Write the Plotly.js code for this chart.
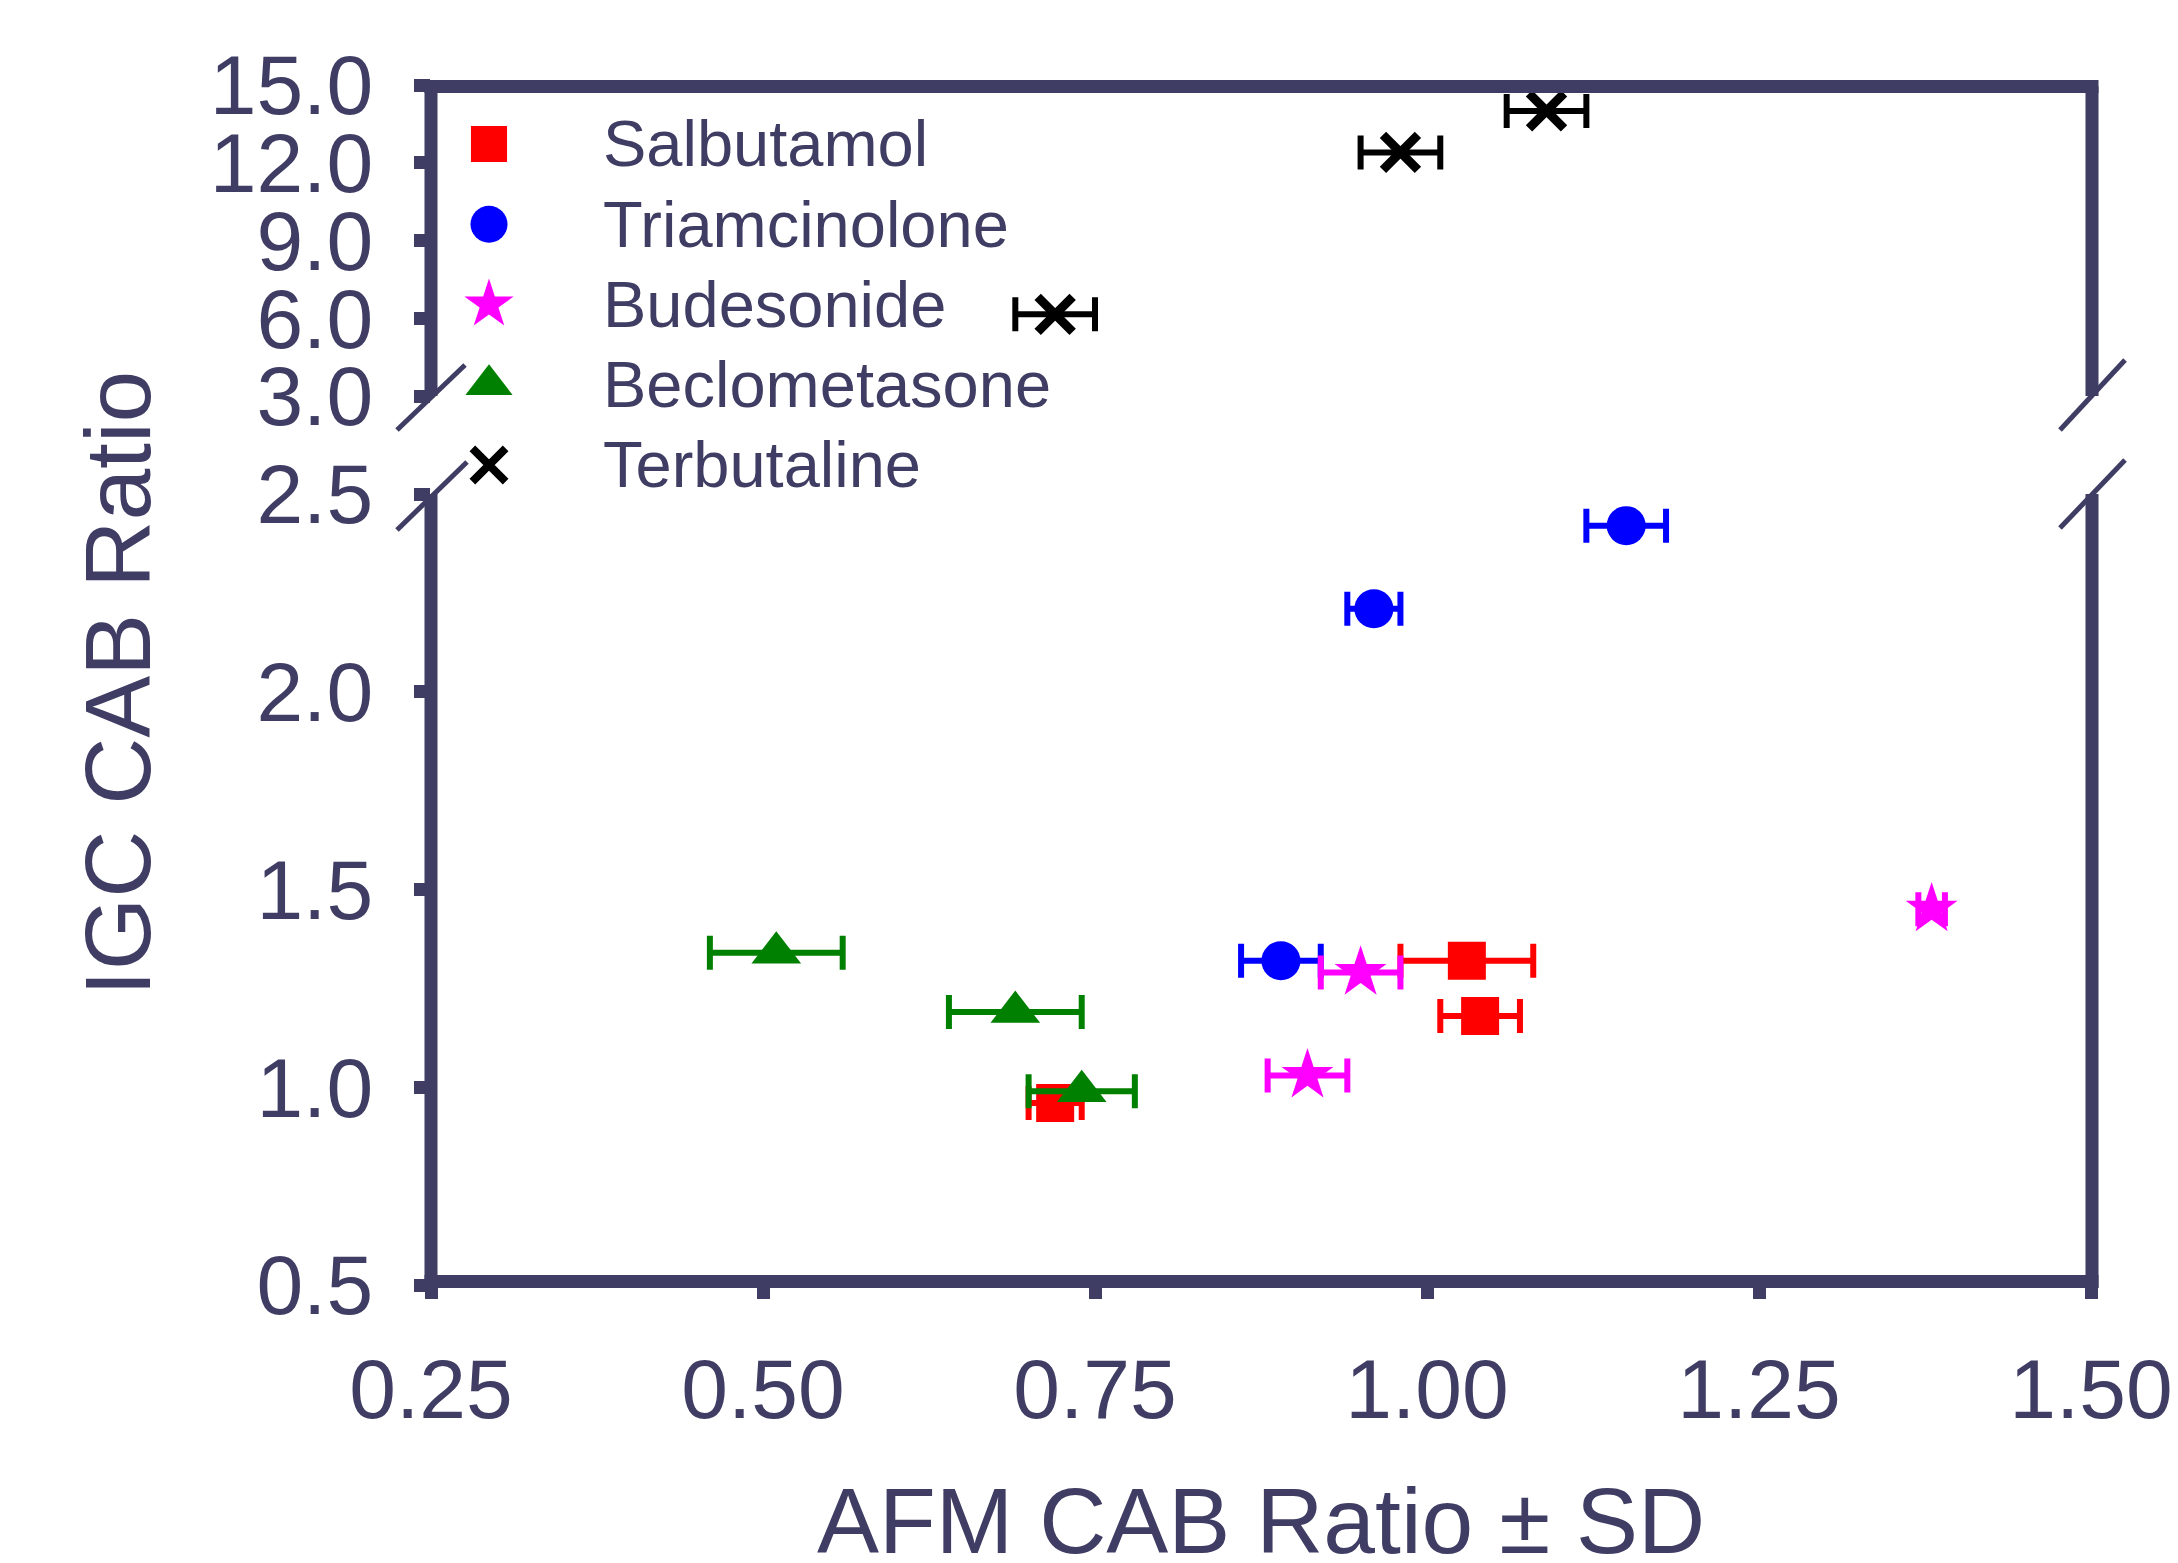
<!DOCTYPE html>
<html><head><meta charset="utf-8">
<script src="https://cdn.plot.ly/plotly-3.0.1.min.js"></script>
<style>html,body{margin:0;padding:0;background:#fff}</style>
</head><body><div id="chart" style="width:2178px;height:1563px"></div>
<script>
// ---- data ----
const seriesNames = ['Salbutamol', 'Triamcinolone', 'Budesonide', 'Beclometasone', 'Terbutaline'];
const salbutamolX  = [1.03, 1.04, 0.72];
const salbutamolY  = [1.32, 1.18, 0.96];
const salbutamolSD = [0.05, 0.03, 0.02];
const triamX  = [1.15, 0.96, 0.89];
const triamY  = [2.42, 2.21, 1.32];
const triamSD = [0.03, 0.02, 0.03];
const budesX  = [0.95, 0.91, 1.38];
const budesY  = [1.29, 1.03, 1.45];
const budesSD = [0.03, 0.03, 0.01];
const beclX  = [0.51, 0.69, 0.74];
const beclY  = [1.34, 1.19, 0.99];
const beclSD = [0.05, 0.05, 0.04];
const terbX  = [1.09, 0.98, 0.72];
const terbY  = [14.0, 12.4, 6.15];
const terbSD = [0.03, 0.03, 0.03];
const xTickVals = [0.25, 0.50, 0.75, 1.00, 1.25, 1.50];
const yLowTickVals = [0.5, 1.0, 1.5, 2.0, 2.5];
const yHighTickVals = [3, 6, 9, 12, 15];

// ---- styling ----
const AX = '#3f3d63';
const FONT = 'Liberation Sans, Arial, Helvetica, sans-serif';
const W = 2178, H = 1563, ML = 431, MR = 87, MT = 85, MB = 278;
const PW = W - ML - MR, PH = H - MT - MB;
const fx = px => (px - ML) / PW;          // pixel -> paper (layout helper)
const fy = py => (H - MB - py) / PH;

const styles = [
  {color: '#ff0000', symbol: 'square', size: 38},
  {color: '#0000ff', symbol: 'circle', size: 39},
  {color: '#ff00ff', symbol: 'star', size: 39},
  {color: '#008000', symbol: 'triangle-up', size: 43},
  {color: '#000000', symbol: 'x-thin', size: 35}
];
const dataSets = [
  [salbutamolX, salbutamolY, salbutamolSD, 'y'],
  [triamX, triamY, triamSD, 'y'],
  [budesX, budesY, budesSD, 'y'],
  [beclX, beclY, beclSD, 'y'],
  [terbX, terbY, terbSD, 'y2']
];

const traces = dataSets.map((d, i) => {
  const s = styles[i];
  const marker = {color: s.color, symbol: s.symbol, size: s.size, opacity: 1};
  if (s.symbol === 'x-thin') marker.line = {color: s.color, width: 9};
  return {
    type: 'scatter', mode: 'markers', name: seriesNames[i],
    x: d[0], y: d[1], xaxis: 'x', yaxis: d[3],
    marker: marker,
    error_x: {type: 'data', array: d[2], visible: true, color: s.color, thickness: 6, width: 17},
    showlegend: false, cliponaxis: false
  };
});

// custom legend on a hidden axis pair
const legendIdx = seriesNames.map((_, i) => i);
traces.push({
  type: 'scatter', mode: 'markers', xaxis: 'x3', yaxis: 'y3',
  x: legendIdx.map(() => 0), y: legendIdx,
  marker: {
    color: styles.map(s => s.color),
    symbol: styles.map(s => s.symbol),
    size: styles.map(s => s.size * 0.95),
    opacity: 1,
    line: {color: styles.map(s => s.color), width: styles.map(s => s.symbol === 'x-thin' ? 8 : 0)}
  },
  showlegend: false, hoverinfo: 'skip', cliponaxis: false
});

const annotations = seriesNames.map((n, i) => ({
  xref: 'x3', yref: 'y3', x: 0, y: i, xshift: 112, xanchor: 'left', yanchor: 'middle',
  text: n, showarrow: false, font: {family: FONT, size: 65, color: AX}
}));
annotations.push({
  xref: 'paper', yref: 'paper', x: 0.5, y: -0.197, xanchor: 'center', yanchor: 'middle',
  text: 'AFM CAB Ratio ± SD', showarrow: false, font: {family: FONT, size: 93, color: AX}
});
annotations.push({
  xref: 'paper', yref: 'paper', x: fx(118), y: fy(684), xanchor: 'center', yanchor: 'middle',
  text: 'IGC CAB Ratio', textangle: -90, showarrow: false, font: {family: FONT, size: 93, color: AX}
});

const tickFont = {family: FONT, size: 84, color: AX};
const commonAxis = {
  showline: false, ticks: 'outside', tickwidth: 13,
  tickcolor: AX, tickfont: tickFont, showgrid: false, zeroline: false, fixedrange: true
};

const LW = 13;
const line = (x0, y0, x1, y1, w) => ({type: 'line', xref: 'paper', yref: 'paper', x0, y0, x1, y1,
  line: {color: AX, width: w}});
const yBot = fy(1281.5), yTop = fy(86.5), xL = 0, xR = fx(2092);
const lowTop = fy(494), upBot = fy(396);

const layout = {
  width: W, height: H,
  margin: {l: ML, r: MR, t: MT, b: MB},
  paper_bgcolor: '#ffffff', plot_bgcolor: 'rgba(0,0,0,0)',
  showlegend: false,
  xaxis: Object.assign({}, commonAxis, {domain: [0, 1], range: [0.25, 1.5], tickvals: xTickVals,
    tickformat: '.2f', anchor: 'y', ticklen: 13, ticklabelstandoff: 18}),
  yaxis: Object.assign({}, commonAxis, {domain: [0, lowTop], range: [0.5, 2.5], tickvals: yLowTickVals,
    tickformat: '.1f', anchor: 'x', ticklen: 16, ticklabelstandoff: 24}),
  yaxis2: Object.assign({}, commonAxis, {domain: [upBot, 1], range: [3, 15], tickvals: yHighTickVals,
    tickformat: '.1f', anchor: 'x', ticklen: 16, ticklabelstandoff: 24}),
  xaxis3: {domain: [0, 1], range: [-0.03494, 0.96506], visible: false, anchor: 'y3', fixedrange: true},
  yaxis3: {domain: [0, 1], range: [14.218, -0.735], visible: false, anchor: 'x3', fixedrange: true},
  annotations: annotations,
  shapes: [
    // frame
    line(fx(ML - 6.5), yBot, fx(2092 + 6.5), yBot, LW),
    line(fx(ML - 6.5), yTop, fx(2092 + 6.5), yTop, LW),
    line(xL, fy(1288), xL, lowTop, LW),
    line(xL, upBot, xL, yTop, LW),
    line(xR, fy(1288), xR, lowTop, LW),
    line(xR, upBot, xR, yTop, LW),
    // axis-break slashes
    line(fx(397), fy(430), fx(465), fy(365), 5),
    line(fx(397), fy(530), fx(467), fy(462), 5),
    line(fx(2060), fy(430), fx(2125), fy(360), 5),
    line(fx(2060), fy(528), fx(2125), fy(460), 5)
  ]
};

Plotly.newPlot('chart', traces, layout, {displayModeBar: false, responsive: false});
</script></body></html>
